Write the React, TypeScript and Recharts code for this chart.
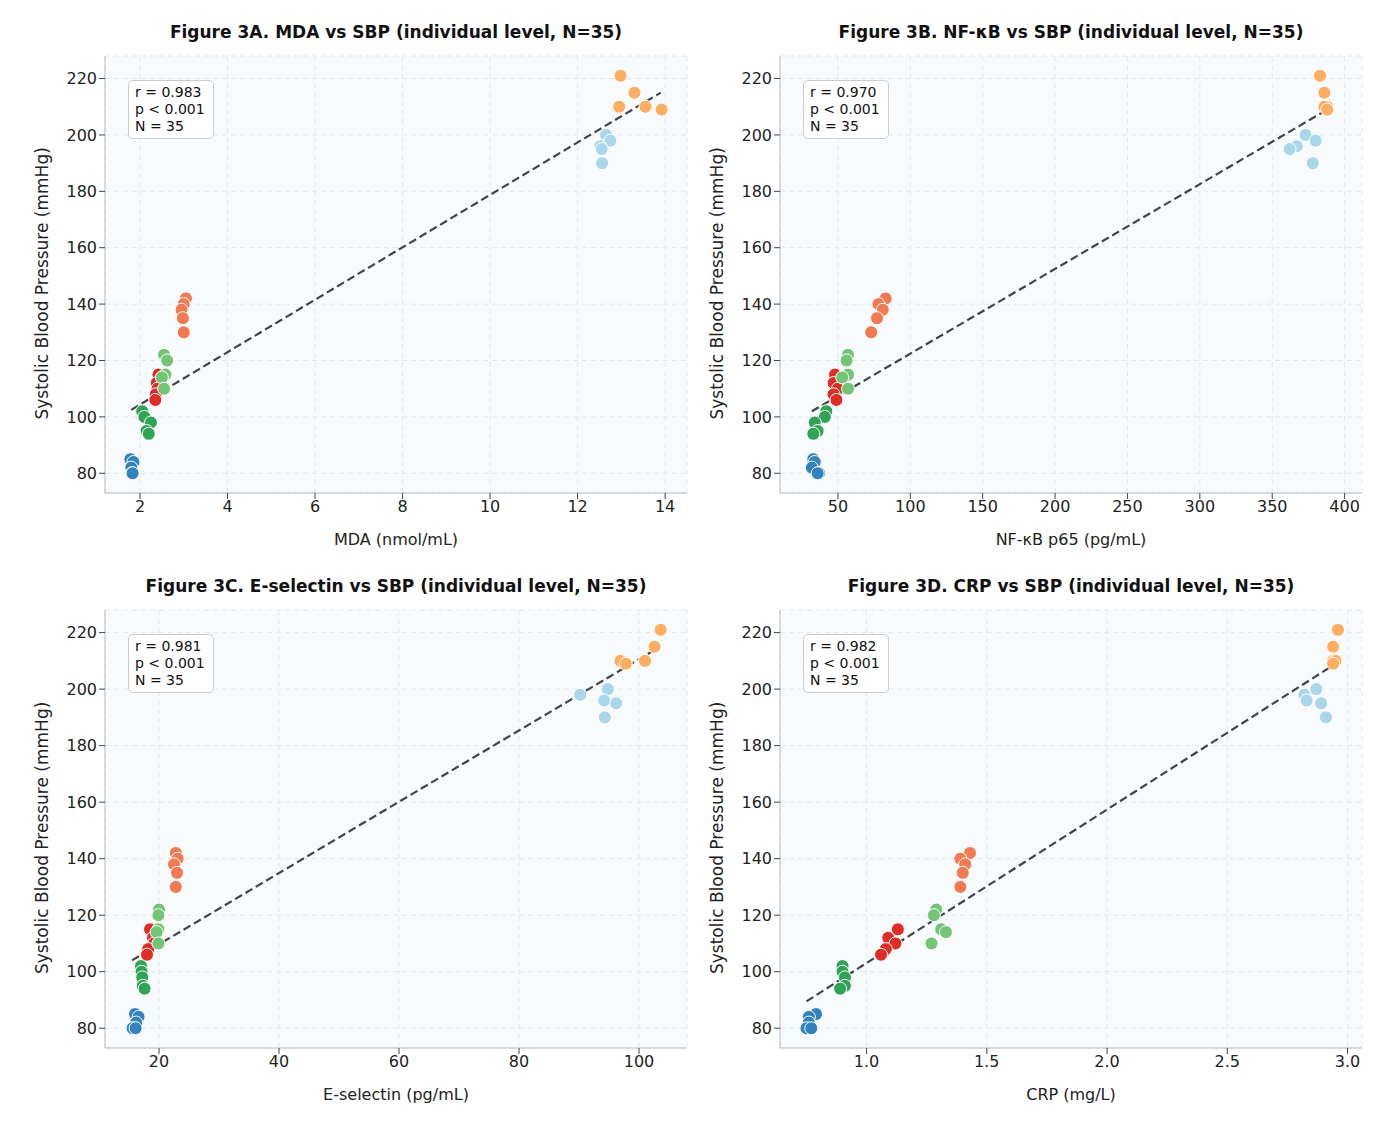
import { ScatterChart, Scatter, XAxis, YAxis, CartesianGrid, ReferenceLine } from "recharts";

// same 35 individuals in every panel, 7 groups of 5
const groupColors = ["#3182bd", "#31a354", "#de2d26", "#74c476", "#f07a52", "#a9d6e8", "#fdae61"];
const sbp = [
  [85, 84, 82, 80, 80],
  [102, 100, 98, 95, 94],
  [115, 112, 110, 108, 106],
  [122, 120, 115, 114, 110],
  [142, 140, 138, 135, 130],
  [200, 198, 196, 195, 190],
  [221, 215, 210, 210, 209],
];
const mda = [
  [1.78, 1.85, 1.8, 1.82, 1.83],
  [2.05, 2.1, 2.25, 2.15, 2.2],
  [2.42, 2.38, 2.4, 2.36, 2.35],
  [2.55, 2.62, 2.58, 2.5, 2.55],
  [3.05, 3.0, 2.95, 2.98, 3.0],
  [12.65, 12.75, 12.52, 12.55, 12.56],
  [12.98, 13.3, 12.95, 13.55, 13.92],
];
const nfkb = [
  [33, 34, 32, 37, 36],
  [42, 41, 34, 36, 33],
  [48, 47, 50, 47, 49],
  [57, 56, 57, 53, 57],
  [83, 78, 81, 77, 73],
  [373, 380, 367, 362, 378],
  [383, 386, 388, 386, 388],
];
const esel = [
  [16, 16.6, 16.2, 15.6, 16.1],
  [17, 17.1, 17.2, 17.3, 17.6],
  [18.5, 19, 19.2, 18.2, 18],
  [20, 19.9, 19.9, 19.6, 19.9],
  [22.8, 23.1, 22.5, 23, 22.8],
  [94.8, 90.2, 94.2, 96.2, 94.3],
  [103.6, 102.6, 96.9, 101, 97.8],
];
const crp = [
  [0.79, 0.76, 0.76, 0.75, 0.77],
  [0.9, 0.9, 0.91, 0.91, 0.89],
  [1.13, 1.09, 1.12, 1.08, 1.06],
  [1.29, 1.28, 1.31, 1.33, 1.27],
  [1.43, 1.39, 1.41, 1.4, 1.39],
  [2.87, 2.82, 2.83, 2.89, 2.91],
  [2.96, 2.94, 2.94, 2.95, 2.94],
];

const yTicks = [80, 100, 120, 140, 160, 180, 200, 220];

const panels = [
  { title: "Figure 3A. MDA vs SBP (individual level, N=35)", xLabel: "MDA (nmol/mL)", xs: mda,
    domain: [1.2, 14.5], ticks: [2, 4, 6, 8, 10, 12, 14], fit: [[1.8, 102.5], [13.9, 215]],
    r: "0.983", fmt: (v: number) => String(v) },
  { title: "Figure 3B. NF-κB vs SBP (individual level, N=35)", xLabel: "NF-κB p65 (pg/mL)", xs: nfkb,
    domain: [10, 412], ticks: [50, 100, 150, 200, 250, 300, 350, 400], fit: [[32, 102], [388, 209]],
    r: "0.970", fmt: (v: number) => String(v) },
  { title: "Figure 3C. E-selectin vs SBP (individual level, N=35)", xLabel: "E-selectin (pg/mL)", xs: esel,
    domain: [11, 108], ticks: [20, 40, 60, 80, 100], fit: [[15.5, 104], [103.5, 215]],
    r: "0.981", fmt: (v: number) => String(v) },
  { title: "Figure 3D. CRP vs SBP (individual level, N=35)", xLabel: "CRP (mg/L)", xs: crp,
    domain: [0.64, 3.06], ticks: [1.0, 1.5, 2.0, 2.5, 3.0], fit: [[0.75, 89.5], [2.95, 209]],
    r: "0.982", fmt: (v: number) => v.toFixed(1) },
];

const font = "DejaVu Sans, sans-serif";

function Panel({ p, left, top, mLeft, mRight, mTop }: any) {
  const W = 695, H = 555;
  const plotLeft = mLeft + 60;
  const plotRight = W - mRight;
  return (
    <div style={{ position: "absolute", left, top, width: W, height: H }}>
      <div style={{ position: "absolute", left: plotLeft - 40, width: plotRight - plotLeft + 80, top: mTop - 34, textAlign: "center", fontWeight: "bold", fontSize: 17 }}>
        {p.title}
      </div>
      <ScatterChart width={W} height={H} margin={{ top: mTop, right: mRight, left: mLeft, bottom: 18 }}>
        <CartesianGrid strokeDasharray="5 4" stroke="#e2e8ed" fill="#f8fbfd" />
        <XAxis type="number" dataKey="x" domain={p.domain} ticks={p.ticks} tickFormatter={p.fmt}
          height={52} tick={{ fontSize: 16, fill: "#222" }} stroke="#bbb" tickLine={{ stroke: "#444" }}
          label={{ value: p.xLabel, position: "insideBottom", offset: 0, fontSize: 16, fill: "#222" }} />
        <YAxis type="number" dataKey="y" domain={[73, 228]} ticks={yTicks} width={60}
          tick={{ fontSize: 16, fill: "#222" }} stroke="#bbb" tickLine={{ stroke: "#444" }}
          label={{ value: "Systolic Blood Pressure (mmHg)", angle: -90, position: "insideLeft", dx: -8, dy: 145, fontSize: 17, fill: "#222" }} />
        <ReferenceLine segment={[{ x: p.fit[0][0], y: p.fit[0][1] }, { x: p.fit[1][0], y: p.fit[1][1] }]}
          stroke="#444" strokeWidth={2.2} strokeDasharray="8 4" />
        {p.xs.map((g: number[], gi: number) => (
          <Scatter key={gi} isAnimationActive={false}
            data={g.map((x, i) => ({ x, y: sbp[gi][i] }))}
            shape={(s: any) => <circle cx={s.cx} cy={s.cy} r={6.5} fill={groupColors[gi]} stroke="#fff" strokeWidth={1} />} />
        ))}
      </ScatterChart>
      <div style={{ position: "absolute", left: plotLeft + 23, top: mTop + 24, border: "1px solid #ccc", borderRadius: 5, background: "#fff", padding: "3px 8px 3px 6px", fontSize: 14, lineHeight: "17px" }}>
        r = {p.r}<br />p &lt; 0.001<br />N = 35
      </div>
    </div>
  );
}

export default function App() {
  return (
    <div style={{ position: "relative", width: 1375, height: 1118, fontFamily: font, color: "#111", background: "#fff" }}>
      <Panel p={panels[0]} left={0} top={0} mLeft={37} mRight={16} mTop={48} />
      <Panel p={panels[1]} left={695} top={0} mLeft={17} mRight={36} mTop={48} />
      <Panel p={panels[2]} left={0} top={555} mLeft={37} mRight={16} mTop={47} />
      <Panel p={panels[3]} left={695} top={555} mLeft={17} mRight={36} mTop={47} />
    </div>
  );
}
